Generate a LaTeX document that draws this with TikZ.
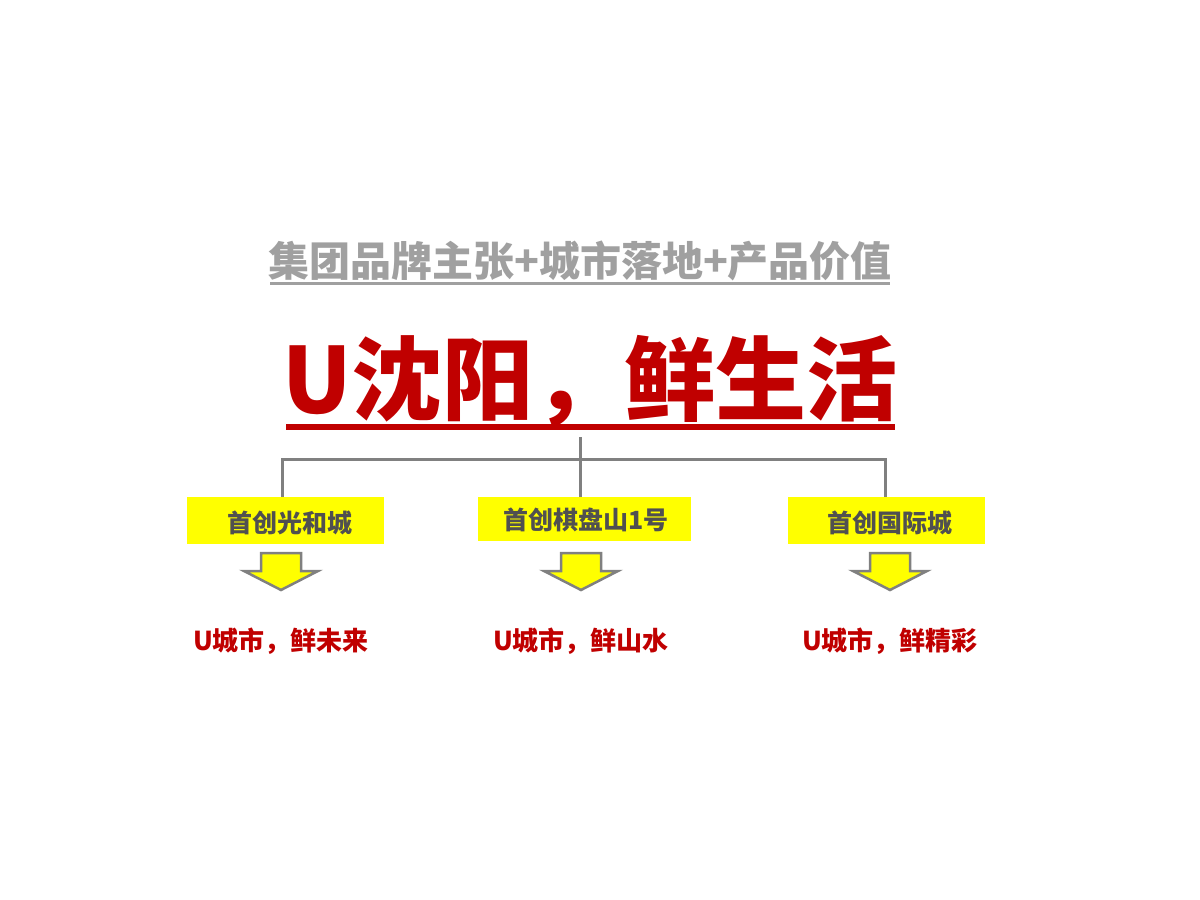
\documentclass[tikz,border=0pt]{standalone}
\usepackage{fontspec}
\newfontfamily\cjk{Noto Sans CJK SC}
\definecolor{tgray}{RGB}{160,160,160}
\definecolor{dred}{RGB}{192,0,0}
\definecolor{lgray}{RGB}{128,128,128}
\definecolor{btext}{RGB}{80,80,80}
\definecolor{yel}{RGB}{255,255,0}
\tikzset{
  title/.style={anchor=base,inner sep=0pt,text=tgray,font=\cjk\bfseries\fontsize{41}{41}\selectfont},
  mainttl/.style={anchor=base,inner sep=0pt,text=dred,font=\cjk\bfseries\fontsize{91}{91}\selectfont},
  ybox/.style={fill=yel,draw=none,inner sep=0pt},
  boxtext/.style={anchor=base,inner sep=0pt,text=btext,font=\cjk\bfseries\fontsize{25}{25}\selectfont},
  result/.style={anchor=base,inner sep=0pt,text=dred,font=\cjk\bfseries\fontsize{26}{26}\selectfont},
  conn/.style={draw=lgray,line width=3pt},
  barrow/.style={fill=yel,draw=lgray,line width=2.5pt,line join=miter},
}
\begin{document}
\begin{tikzpicture}[x=1pt,y=-1pt]
\useasboundingbox (0,0) rectangle (1200,900);
% title
\node[title] (ttl) at (580,276) {集团品牌主张+城市落地+产品价值};
\draw[draw=tgray,line width=3pt] (270,283) -- (890,283);
% main
\node[mainttl] (main) at (590,413) {U沈阳，鲜生活};
\fill[dred] (286,424) rectangle (895,430);
% boxes
\node[ybox,minimum width=197pt,minimum height=47pt] (b1) at (285.5,520.5) {};
\node[ybox,minimum width=213pt,minimum height=44pt] (b2) at (584.5,519) {};
\node[ybox,minimum width=197pt,minimum height=47pt] (b3) at (886.5,520.5) {};
\node[boxtext] (t1) at (290,532) {首创光和城};
\node[boxtext] (t2) at (586,529) {首创棋盘山1号};
\node[boxtext] (t3) at (890,532) {首创国际城};
% connectors
\coordinate (top) at (580,437);
\coordinate (hub) at (580,459);
\draw[conn] (b1.north -| 282,0) |- (hub) -| (b3.north -| 885,0);
\draw[conn] (top) -- (top |- b2.north);
% arrows
\foreach \cx in {281,581,890}{
  \draw[barrow] (\cx-20,553) -- (\cx+20,553) -- (\cx+20,571) -- (\cx+37,571)
     -- (\cx,590) -- (\cx-37,571) -- (\cx-20,571) -- cycle;
}
% results
\node[result] (r1) at (281,650) {U城市，鲜未来};
\node[result] (r2) at (581,650) {U城市，鲜山水};
\node[result] (r3) at (890,650) {U城市，鲜精彩};
\end{tikzpicture}
\end{document}
